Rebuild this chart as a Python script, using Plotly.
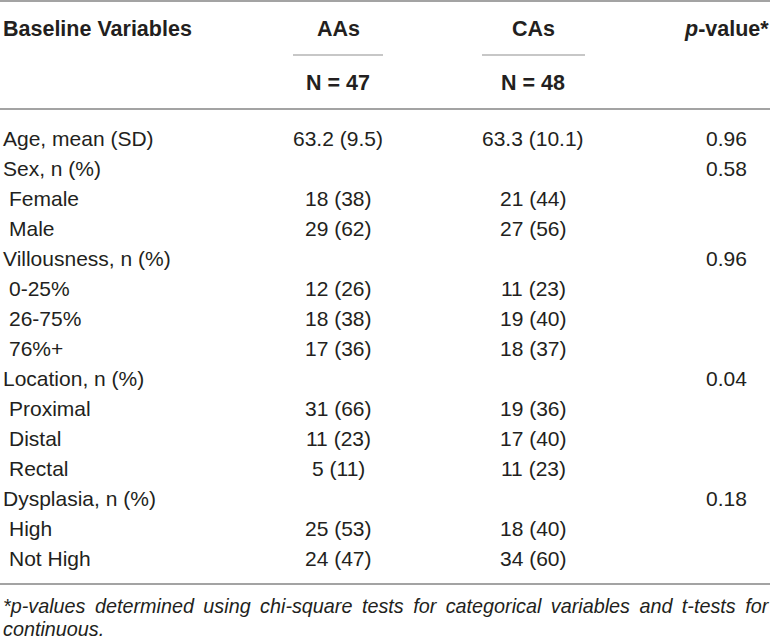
import plotly.graph_objects as go

# ---- data ----
header_label = "Baseline Variables"
groups = ["AAs", "CAs"]
group_n = ["N = 47", "N = 48"]
pvalue_header = "<i>p</i>-value*"

row_labels = ["Age, mean (SD)", "Sex, n (%)", "Female", "Male",
              "Villousness, n (%)", "0-25%", "26-75%", "76%+",
              "Location, n (%)", "Proximal", "Distal", "Rectal",
              "Dysplasia, n (%)", "High", "Not High"]
aas_values = ["63.2 (9.5)", "", "18 (38)", "29 (62)",
              "", "12 (26)", "18 (38)", "17 (36)",
              "", "31 (66)", "11 (23)", "5 (11)",
              "", "25 (53)", "24 (47)"]
cas_values = ["63.3 (10.1)", "", "21 (44)", "27 (56)",
              "", "11 (23)", "19 (40)", "18 (37)",
              "", "19 (36)", "17 (40)", "11 (23)",
              "", "18 (40)", "34 (60)"]
p_values = ["0.96", "0.58", "", "",
            "0.96", "", "", "",
            "0.04", "", "", "",
            "0.18", "", ""]
footnote_lines = ["*p-values determined using chi-square tests for categorical variables and t-tests for",
                  "continuous."]

# ---- layout constants ----
W, H = 772, 642
TXT = "#231f20"
LINE = "#a3a3a3"
FONT = "Liberation Sans, Arial, sans-serif"
REG = 21
BOLD = 21.5
FOOT = 19.8

label_x, sub_x = 1, 7
col_x = [338, 533]
p_x = 726
head_y, n_y = 29, 83
row_y0, row_dy = 138, 30
top_line, short_line, mid_line, bot_line = 1, 55, 109, 584
short_spans = [(293, 383), (482, 585)]
foot_y0, foot_dy = 606, 23

fig = go.Figure()
fig.add_trace(go.Scatter(x=[0, W], y=[0, H], mode="markers",
                         marker=dict(opacity=0), hoverinfo="skip", showlegend=False))

ann = []
def add(text, x, y, anchor, size=REG, bold=False):
    ann.append(dict(text=("<b>%s</b>" % text) if bold else text, x=x, y=y,
                    xref="x", yref="y", xanchor=anchor, yanchor="middle",
                    showarrow=False, font=dict(family=FONT, size=size, color=TXT)))

add(header_label, label_x, head_y, "left", BOLD, True)
for g, n, cx in zip(groups, group_n, col_x):
    add(g, cx, head_y, "center", BOLD, True)
    add(n, cx, n_y, "center", BOLD, True)
add(pvalue_header, p_x, head_y, "center", BOLD, True)

for i, lab in enumerate(row_labels):
    y = row_y0 + i * row_dy
    add(lab, label_x if "," in lab else sub_x, y, "left")
    for vals, cx in zip([aas_values, cas_values], col_x):
        if vals[i]:
            add(vals[i], cx, y, "center")
    if p_values[i]:
        add(p_values[i], p_x, y, "center")

for j, line in enumerate(footnote_lines):
    # first line is justified in the reference: widen its word gaps
    shown = line.replace(" ", " \u2009") if j < len(footnote_lines) - 1 else line
    ann.append(dict(text="<i>%s</i>" % shown, x=label_x, y=foot_y0 + j * foot_dy,
                    xref="x", yref="y", xanchor="left", yanchor="middle",
                    showarrow=False, font=dict(family=FONT, size=FOOT, color=TXT)))

shapes = []
for yy in [top_line, mid_line, bot_line]:
    shapes.append(dict(type="line", xref="x", yref="y", x0=0, x1=770, y0=yy, y1=yy,
                       line=dict(color=LINE, width=2)))
for a, b in short_spans:
    shapes.append(dict(type="line", xref="x", yref="y", x0=a, x1=b, y0=short_line, y1=short_line,
                       line=dict(color="#b5b5b5", width=1.5)))

fig.update_layout(width=W, height=H, margin=dict(l=0, r=0, t=0, b=0),
                  paper_bgcolor="white", plot_bgcolor="white",
                  xaxis=dict(range=[0, W], visible=False, fixedrange=True),
                  yaxis=dict(range=[H, 0], visible=False, fixedrange=True),
                  annotations=ann, shapes=shapes, showlegend=False)

fig.write_html("out.html", config={"displayModeBar": False},
               post_script="document.body.style.margin='0';document.body.style.overflow='hidden';")
